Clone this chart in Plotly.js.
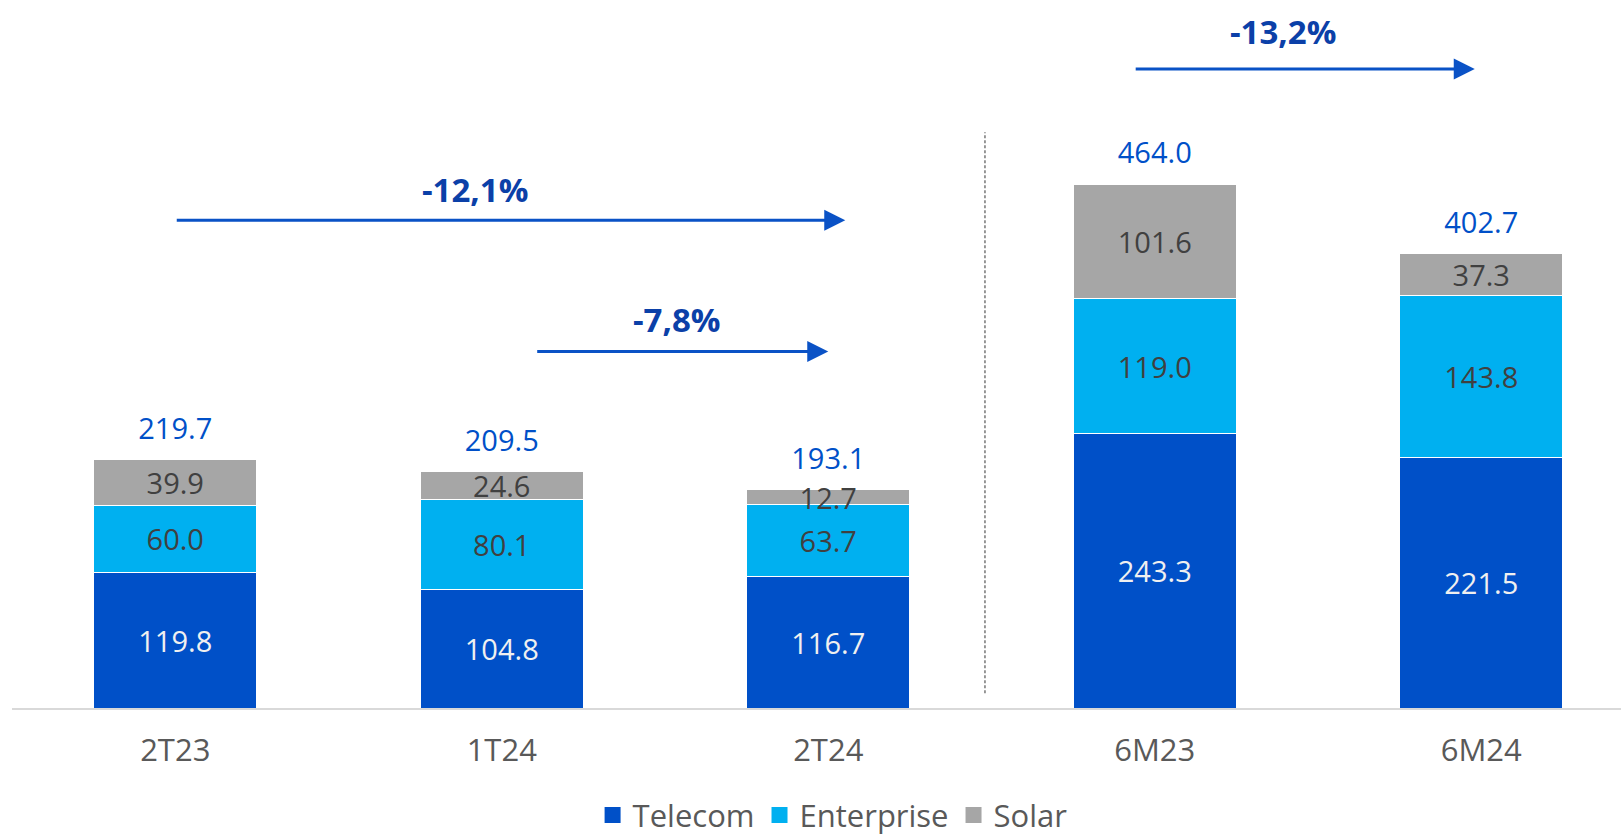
<!DOCTYPE html>
<html>
<head>
<meta charset="utf-8">
<script src="https://cdn.plot.ly/plotly-3.0.1.min.js"></script>
<style>html,body{margin:0;padding:0;background:#fff;}#chart{width:1621px;height:837px;}</style>
</head>
<body>
<div id="chart"></div>
<script>
const categories = ['2T23', '1T24', '2T24', '6M23', '6M24'];
const telecom = [119.8, 104.8, 116.7, 243.3, 221.5];
const enterprise = [60.0, 80.1, 63.7, 119.0, 143.8];
const solar = [39.9, 24.6, 12.7, 101.6, 37.3];
const totals = [219.7, 209.5, 193.1, 464.0, 402.7];
const seriesNames = ['Telecom', 'Enterprise', 'Solar'];
const changeLabels = ['-12,1%', '-7,8%', '-13,2%'];

const FONT = 'Open Sans, Lato, sans-serif';
const BLUE = '#0050c8';
const CYAN = '#00b0f0';
const GRAY = '#a6a6a6';
const ARROW = '#0a52c6';
const TXT = '#0b40a8';

function barTrace(name, vals, color, txtColor) {
  return {
    type: 'bar', name: name, x: categories, y: vals,
    marker: {color: color, line: {color: '#ffffff', width: 1}},
    text: vals.map(v => v.toFixed(1)), textposition: 'inside',
    insidetextanchor: 'middle', constraintext: 'none', textangle: 0,
    textfont: {family: FONT, size: 29, color: txtColor},
    hoverinfo: 'skip', width: 0.5, showlegend: false
  };
}
function legendTrace(name, color) {
  return {type: 'scatter', mode: 'markers', name: name, x: [null], y: [null],
    marker: {symbol: 'square', size: 18, color: color}, hoverinfo: 'skip'};
}

const data = [
  barTrace(seriesNames[0], telecom, BLUE, '#f0f0f0'),
  barTrace(seriesNames[1], enterprise, CYAN, '#404040'),
  barTrace(seriesNames[2], solar, GRAY, '#404040'),
  {
    type: 'scatter', mode: 'text+markers', x: categories, y: totals,
    text: totals.map(v => v.toFixed(1)), textposition: 'top center',
    marker: {size: 20, opacity: 0},
    textfont: {family: FONT, size: 29, color: BLUE},
    showlegend: false, hoverinfo: 'skip', cliponaxis: false
  },
  legendTrace(seriesNames[0], BLUE),
  legendTrace(seriesNames[1], CYAN),
  legendTrace(seriesNames[2], GRAY)
];

function arrow(x0, x1, y) {
  return {x: x1, y: y, ax: x0, ay: y, xref: 'x', yref: 'y', axref: 'x', ayref: 'y',
    text: '', showarrow: true, arrowhead: 2, arrowsize: 1.4, arrowwidth: 3,
    arrowcolor: ARROW, standoff: 0, startstandoff: 0};
}
function label(t, x, y) {
  return {x: x, y: y, xref: 'x', yref: 'y', text: '<b>' + t + '</b>', showarrow: false,
    font: {family: FONT, size: 33, color: TXT}};
}

const layout = {
  width: 1621, height: 837,
  margin: {l: 12, r: 0, t: 20, b: 129, autoexpand: false},
  paper_bgcolor: '#ffffff', plot_bgcolor: '#ffffff',
  barmode: 'stack', bargap: 0.5,
  showlegend: true,
  legend: {orientation: 'h', x: 0.51, xanchor: 'center', yref: 'container', y: 0.026, yanchor: 'middle',
    font: {family: FONT, size: 31, color: '#595959'}, traceorder: 'normal', itemwidth: 30,
    tracegroupgap: 0},
  xaxis: {type: 'category', range: [-0.5, 4.428], showgrid: false, zeroline: false,
    showline: true, linecolor: '#d9d9d9', linewidth: 2, ticks: '',
    ticklabelstandoff: 14,
    tickfont: {family: FONT, size: 31, color: '#595959'}, fixedrange: true},
  yaxis: {range: [0, 609.4], visible: false, showgrid: false, zeroline: false, fixedrange: true},
  shapes: [
    {type: 'line', xref: 'x', yref: 'y', x0: 2.48, x1: 2.48, y0: 13, y1: 510,
      line: {color: '#555555', width: 1.2, dash: '3px,2px'}}
  ],
  annotations: [
    arrow(0, 2.052, 432), label(changeLabels[0], 0.919, 459.7),
    arrow(1.104, 2.0, 315.8), label(changeLabels[1], 1.537, 343.7),
    arrow(2.937, 3.98, 566), label(changeLabels[2], 3.394, 598.8)
  ]
};

Plotly.newPlot('chart', data, layout, {displayModeBar: false, staticPlot: true});
</script>
</body>
</html>
